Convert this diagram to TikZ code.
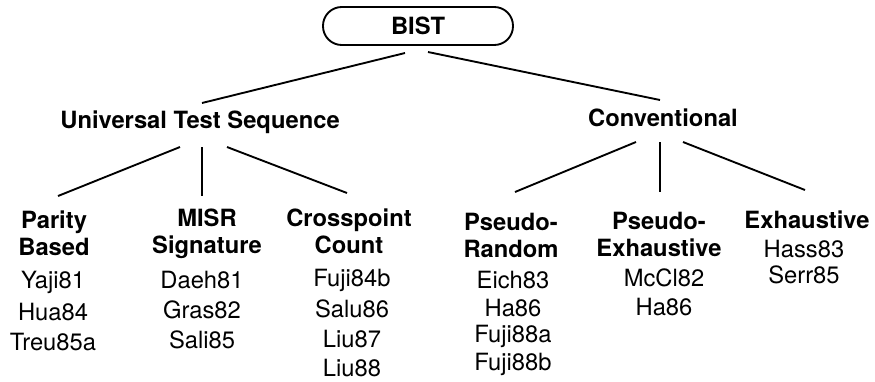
\documentclass[tikz,border=0pt]{standalone}
\usepackage{fontspec}
\setmainfont{TeX Gyre Heros}
\usetikzlibrary{calc}

\begin{document}
\begin{tikzpicture}[x=0.4pt, y=-0.4pt, line width=0.75pt,
  every node/.style={font=\fontsize{9.5}{10.8}\selectfont, inner sep=0pt, align=center},
  head/.style={font=\fontsize{9.5}{10.8}\selectfont\bfseries},
  rootbox/.style={draw, rounded corners=7.5pt, minimum width=76pt, minimum height=15.2pt,
    font=\fontsize{9.5}{10.8}\selectfont\bfseries}]
\useasboundingbox (0,0) rectangle (875,381);
% root and the two classes
\node[rootbox] (bist) at (418,26) {BIST};
\node[head] (uts) at (200,122) {Universal Test Sequence};
\node[head] (conv) at (663,118) {Conventional};
% leaf headings
\node[head] (parity) at (54,233.5) {Parity\\Based};
\node[head] (misr) at (207,233.5) {MISR\\Signature};
\node[head] (cross) at (349,231) {Crosspoint\\Count};
\node[head] (prand) at (511,235) {Pseudo-\\Random};
\node[head] (pexh) at (659,234) {Pseudo-\\Exhaustive};
\node[head] (exh) at (807,220) {Exhaustive};
% references under each leaf
\foreach \t [count=\k] in {Yaji81,Hua84,Treu85a}
  \node (parity-\k) at (53,282+30*\k-30) {\t};
\foreach \t [count=\k] in {Daeh81,Gras82,Sali85}
  \node (misr-\k) at (202,280+30*\k-30) {\t};
\foreach \t [count=\k] in {Fuji84b,Salu86,Liu87,Liu88}
  \node (cross-\k) at (352,280+29.3*\k-29.3) {\t};
\foreach \t [count=\k] in {Eich83,Ha86,Fuji88a,Fuji88b}
  \node (prand-\k) at (513,280+28.3*\k-28.3) {\t};
\foreach \t [count=\k] in {McCl82,Ha86}
  \node (pexh-\k) at (664,278+29*\k-29) {\t};
\foreach \t [count=\k] in {Hass83,Serr85}
  \node (exh-\k) at (804,249+26*\k-26) {\t};
% branches
\draw ($(bist)+(-13,27)$) -- ($(uts)+(2,-19)$);
\draw ($(bist)+(10,26)$) -- ($(conv)+(-3,-18)$);
\draw ($(uts)+(-20,25)$) -- ($(parity)+(4,-37.5)$);
\draw ($(uts)+(2,25)$) -- ($(misr)+(-5,-37.5)$);
\draw ($(uts)+(27,25)$) -- ($(cross)+(-2,-38)$);
\draw ($(conv)+(-27,24)$) -- ($(prand)+(4,-43)$);
\draw ($(conv)+(-3,24)$) -- ($(pexh)+(1,-42)$);
\draw ($(conv)+(20,24)$) -- ($(exh)+(-2,-30)$);
\end{tikzpicture}
\end{document}
